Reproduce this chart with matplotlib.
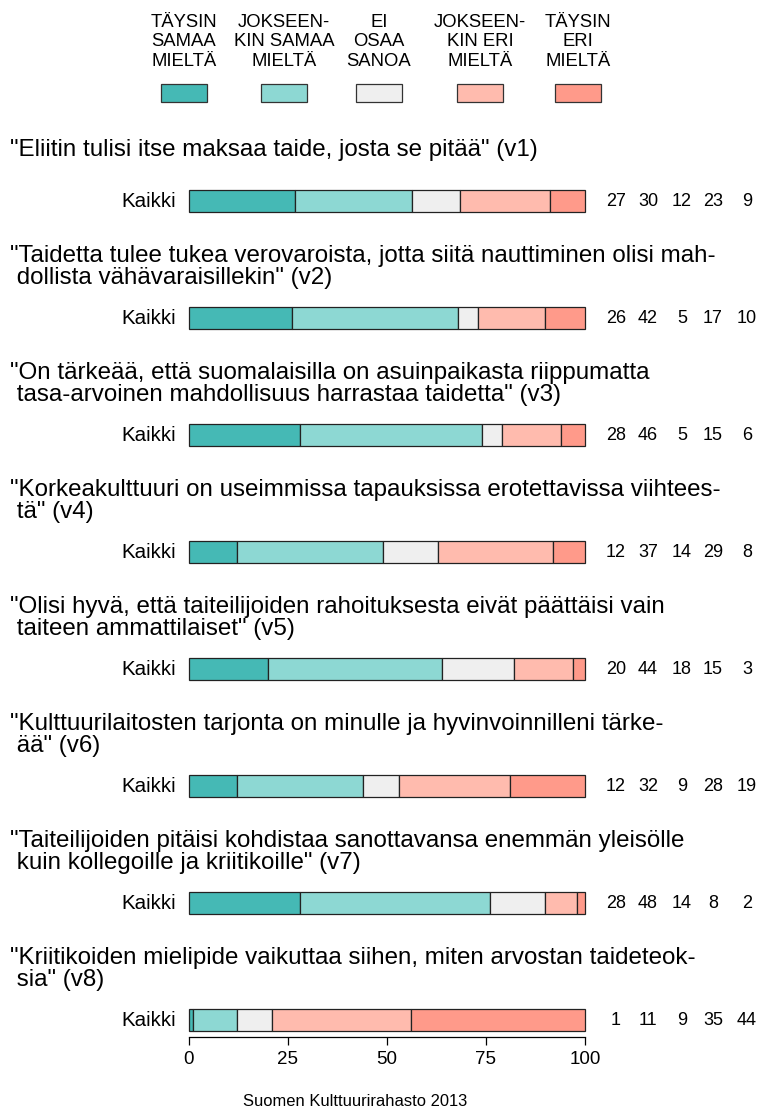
import matplotlib
matplotlib.use("Agg")
import matplotlib.pyplot as plt
import matplotlib.transforms as mtransforms
from matplotlib.patches import Rectangle
import numpy as np

plt.rcParams['font.family'] = ['Liberation Sans', 'DejaVu Sans']

# answer categories (legend) and colours
categories = ["TÄYSIN\nSAMAA\nMIELTÄ", "JOKSEEN-\nKIN SAMAA\nMIELTÄ", "EI\nOSAA\nSANOA",
              "JOKSEEN-\nKIN ERI\nMIELTÄ", "TÄYSIN\nERI\nMIELTÄ"]
colors = ["#45B9B5", "#8DD8D3", "#EFEFEF", "#FFBBAE", "#FF9A8A"]

questions = [
    "\"Eliitin tulisi itse maksaa taide, josta se pitää\" (v1)",
    "\"Taidetta tulee tukea verovaroista, jotta siitä nauttiminen olisi mah-\n dollista vähävaraisillekin\" (v2)",
    "\"On tärkeää, että suomalaisilla on asuinpaikasta riippumatta\n tasa-arvoinen mahdollisuus harrastaa taidetta\" (v3)",
    "\"Korkeakulttuuri on useimmissa tapauksissa erotettavissa viihtees-\n tä\" (v4)",
    "\"Olisi hyvä, että taiteilijoiden rahoituksesta eivät päättäisi vain\n taiteen ammattilaiset\" (v5)",
    "\"Kulttuurilaitosten tarjonta on minulle ja hyvinvoinnilleni tärke-\n ää\" (v6)",
    "\"Taiteilijoiden pitäisi kohdistaa sanottavansa enemmän yleisölle\n kuin kollegoille ja kriitikoille\" (v7)",
    "\"Kriitikoiden mielipide vaikuttaa siihen, miten arvostan taideteok-\n sia\" (v8)",
]
group_label = "Kaikki"

# shares (%) per question, order of categories
v1 = [27, 30, 12, 23, 9]
v2 = [26, 42, 5, 17, 10]
v3 = [28, 46, 5, 15, 6]
v4 = [12, 37, 14, 29, 8]
v5 = [20, 44, 18, 15, 3]
v6 = [12, 32, 9, 28, 19]
v7 = [28, 48, 14, 8, 2]
v8 = [1, 11, 9, 35, 44]
rows = [v1, v2, v3, v4, v5, v6, v7, v8]

xticks = [0, 25, 50, 75, 100]
source = "Suomen Kulttuurirahasto 2013"

W, H = 762, 1113
fig = plt.figure(figsize=(W / 100, H / 100), dpi=100)

# overlay for legend and source text
ov = fig.add_axes([0, 0, 1, 1])
ov.set_xlim(0, W)
ov.set_ylim(H, 0)
ov.axis("off")

# main axes: x 0..100 spans px 189..585, one row = 117 px
ax = fig.add_axes([189 / W, (H - 1037) / H, 396 / W, 942 / H])
ax.patch.set_visible(False)
ax.set_xlim(0, 100)
ax.set_ylim(7.145, -0.906)

bar_h = 0.19
for i, row in enumerate(rows):
    vals = np.array(row, dtype=float)
    vals = vals / vals.sum() * 100
    left = np.concatenate([[0], np.cumsum(vals)[:-1]])
    bars = ax.barh([i] * len(vals), vals, left=left, height=bar_h, color=colors,
                   edgecolor="#222222", linewidth=0.9)
    for b in bars:
        b.set_clip_on(False)

ax.set_yticks([])
for s in ["top", "right", "left"]:
    ax.spines[s].set_visible(False)
ax.spines["bottom"].set_bounds(0, 100)
ax.spines["bottom"].set_linewidth(0.9)
ax.set_xticks(xticks)
ax.set_xticklabels([str(t) for t in xticks])
ax.tick_params(axis="x", length=6, width=0.9, labelsize=13.5, pad=4)

trans = mtransforms.blended_transform_factory(fig.transFigure, ax.transData)
num_x = [616, 648, 682, 713, 747]
for i, row in enumerate(rows):
    ax.text(10 / W, i - 0.44, questions[i], transform=trans, fontsize=17.4,
            va="center", ha="left", linespacing=1.0)
    ax.text(-3.3, i, group_label, fontsize=14.8, ha="right", va="center", clip_on=False)
    for j, v in enumerate(row):
        ax.text(num_x[j] / W, i, str(v), transform=trans, fontsize=13,
                ha="center", va="center")

# legend
leg_x = [184, 284, 379, 480, 578]
for x, lab, c in zip(leg_x, categories, colors):
    ov.text(x, 42, lab, fontsize=13.3, ha="center", va="center", linespacing=1.16)
    ov.add_patch(Rectangle((x - 23, 84), 46, 18, facecolor=c, edgecolor="#333333", linewidth=0.9))

ov.text(355, 1101, source, fontsize=11.9, ha="center", va="center")

fig.savefig("out.png", dpi=100)
